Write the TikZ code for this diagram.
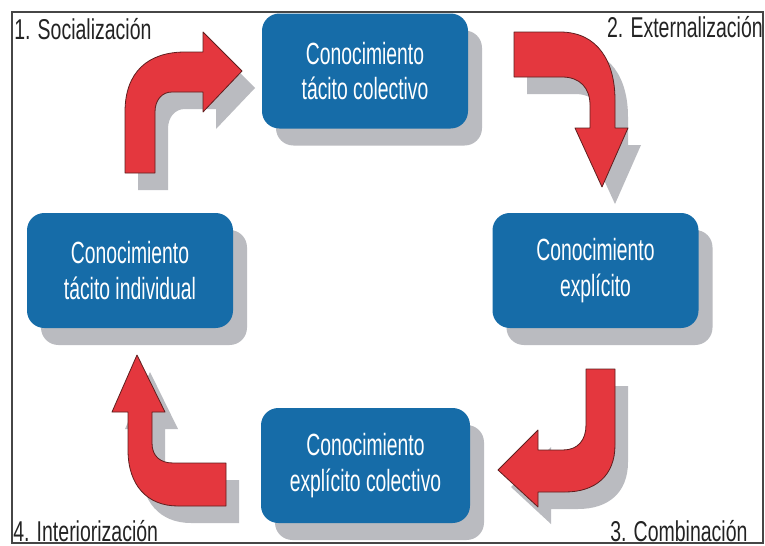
\documentclass[tikz,border=0pt]{standalone}
\usepackage{fontspec}
\setmainfont{Liberation Sans}
\newfontfamily\labelfont[FakeStretch=0.68]{Liberation Sans}
\newfontfamily\boxfont[FakeStretch=0.63]{Liberation Sans}
\usetikzlibrary{shadows}

\definecolor{boxblue}{RGB}{22,108,168}
\definecolor{shadowgray}{RGB}{186,187,192}
\definecolor{arrowred}{RGB}{228,55,62}
\definecolor{arrowedge}{RGB}{95,30,30}
\definecolor{framegray}{RGB}{70,70,70}
\definecolor{labelink}{RGB}{35,35,35}

% a bent block arrow with its grey cast shadow
\newcommand{\blockarrow}[1]{%
  \fill[arrowshade] #1;
  \filldraw[arrowbody] #1;}

\begin{document}
\begin{tikzpicture}[x=0.75pt,y=-0.75pt,
  knowledge/.style={rectangle, rounded corners=13pt, fill=boxblue,
    text=white, align=center, inner sep=0pt,
    minimum width=154.5pt, minimum height=86.25pt,
    font=\boxfont\fontsize{23}{26.5}\selectfont,
    drop shadow={shadow xshift=10.5pt, shadow yshift=-12.75pt,
      fill=shadowgray, opacity=1}},
  phase/.style={inner sep=0pt, text=labelink,
    font=\labelfont\fontsize{21.5}{24}\selectfont},
  arrowshade/.style={fill=shadowgray, shift={(13,17)}},
  arrowbody/.style={fill=arrowred, draw=arrowedge, line width=0.6pt,
    line join=round}]

\useasboundingbox (0,0) rectangle (765,546);
\fill[white] (0,0) rectangle (765,546);

% knowledge states
\node[knowledge] (tc) at (365,71)    {Conocimiento\\tácito colectivo};
\node[knowledge] (ex) at (595.5,270.5) {Conocimiento\\explícito};
\node[knowledge] (ti) at (130,270.5) {Conocimiento\\tácito individual};
\node[knowledge, minimum width=156.75pt] (ec) at (365.5,465.5)
  {Conocimiento\\explícito colectivo};

% conversion arrows
\blockarrow{(125,173) -- (125,112) .. controls (125,72) and (148,52) .. (185,52)
  -- (203,52) -- (203,32) -- (242,71) -- (203,112) -- (203,92) -- (172,92)
  .. controls (162,92) and (155,100) .. (155,112) -- (155,173) -- cycle}
\blockarrow{(514,32) -- (560,32) .. controls (598,32) and (615,62) .. (615,100)
  -- (615,128) -- (628,128) -- (602,187) -- (575,128) -- (590,128) -- (590,105)
  .. controls (590,88) and (580,77) .. (562,77) -- (514,77) -- cycle}
\blockarrow{(586,369) -- (615,369) -- (615,445)
  .. controls (615,476) and (595,492) .. (565,492) -- (538,492) -- (538,507)
  -- (498,470) -- (538,430) -- (538,450) -- (563,450)
  .. controls (578,450) and (586,440) .. (586,425) -- cycle}
\blockarrow{(226,463) -- (226,506) -- (178,506)
  .. controls (147,506) and (128,485) .. (128,450) -- (128,412) -- (112,412)
  -- (137,355) -- (165,412) -- (152,412) -- (152,443)
  .. controls (152,456) and (160,463) .. (173,463) -- cycle}

% phase labels
\node[phase, anchor=base west] (soc) at (14,39)  {1. Socialización};
\node[phase, anchor=base east] (ext) at (763,37) {2. Externalización};
\node[phase, anchor=base west] (com) at (610,541) {3. Combinación};
\node[phase, anchor=base west] (int) at (13,541) {4. Interiorización};

% outer frame
\draw[framegray, line width=1.2pt] (12,12) rectangle (763,543);
\end{tikzpicture}
\end{document}
